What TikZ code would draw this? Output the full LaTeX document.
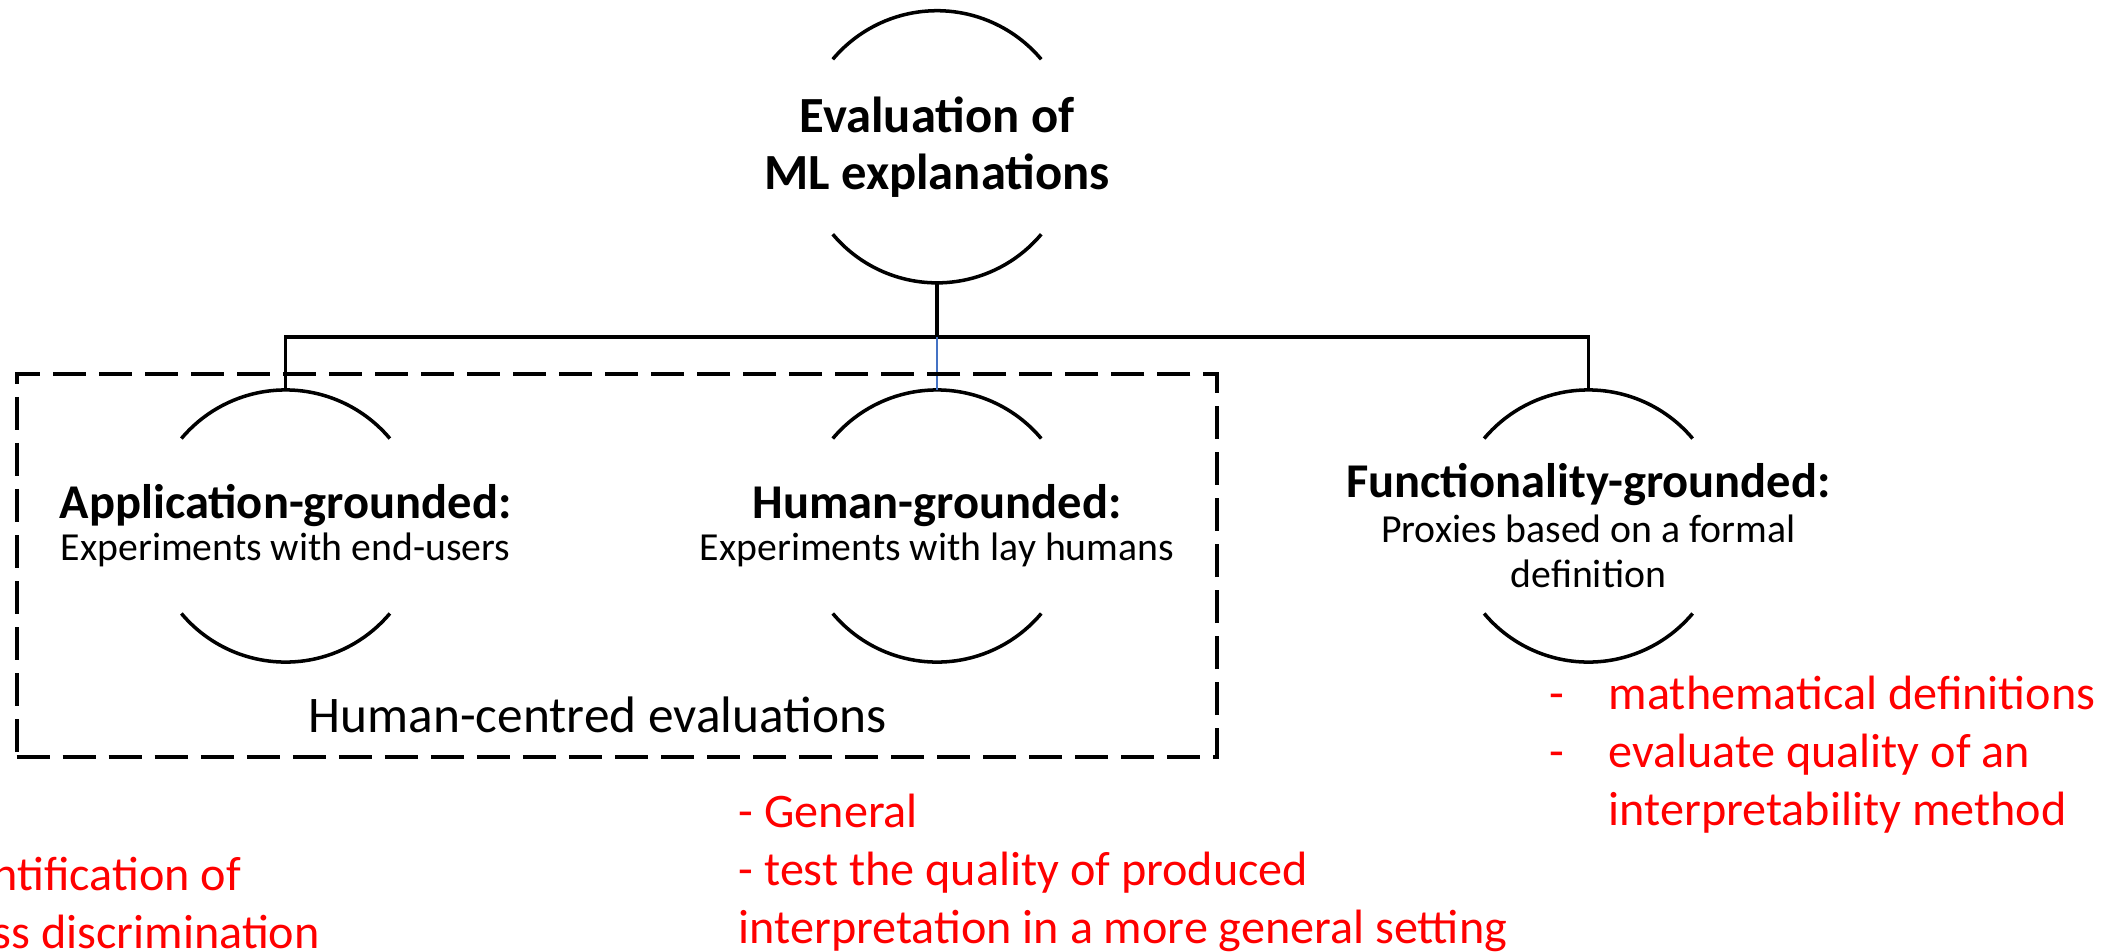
\documentclass[tikz,border=0pt]{standalone}
\usepackage{fontspec}
\setmainfont{Carlito}
\usetikzlibrary{positioning}
\definecolor{linkblue}{RGB}{68,114,196}
\newcommand{\subline}[1]{{\fontsize{11.3}{12}\selectfont #1}}

\begin{document}
\begin{tikzpicture}[x=0.01cm, y=0.01cm, node distance=6.51cm,
    head node/.style={align=center, inner sep=0pt, font=\fontsize{13.8}{12}\selectfont},
    ring node/.style={circle, minimum size=2.72cm, inner sep=0pt, outer sep=0pt},
    arc line/.style={line width=1pt},
    link/.style={line width=1pt},
    blue link/.style={line width=0.5pt, linkblue},
    group box/.style={draw, line width=1.1pt, dash pattern=on 0.33cm off 0.13cm, minimum width=12cm, minimum height=3.83cm},
    note node/.style={align=left, anchor=base west, inner sep=0pt, text=red, font=\fontsize{13.7}{16.4}\selectfont}]
  \useasboundingbox (0,0) rectangle (2124,-951);

  \node[head node] (hum) at (937,-526) {\textbf{Human-grounded:}\\\subline{Experiments with lay humans}};
  \node[head node] (app) [left of=hum] {\textbf{Application-grounded:}\\\subline{Experiments with end-users}};
  \node[head node, font=\fontsize{13.8}{12.8}\selectfont] (func) [right of=hum] {\textbf{Functionality-grounded:}\\\subline{Proxies based on a formal}\\\subline{definition}};
  \node[head node, font=\fontsize{14.4}{16.2}\selectfont\bfseries] (eval) [node distance=3.79cm, above of=hum] {Evaluation of\\ML explanations};

  % open circles round each heading
  \foreach \n in {eval,app,hum,func} {
    \node[ring node] (\n-c) at (\n) {};
    \draw[arc line] (\n-c.40) arc[start angle=40, end angle=140, radius=1.36cm];
    \draw[arc line] (\n-c.220) arc[start angle=220, end angle=320, radius=1.36cm];
  }

  \draw[link] (eval-c.south) -- ++(0,-54) coordinate (bus);
  \draw[link] (bus) -| (app-c.north);
  \draw[link] (bus) -| (func-c.north);
  \draw[blue link] (bus) -- (hum-c.north);

  \node[group box] (group) at (617,-565.5) {};
  \node[anchor=base west, inner sep=0pt, font=\fontsize{14.6}{16}\selectfont] (group label) at (308,-732) {Human-centred evaluations};

  % red remarks (anchored at the baseline of their last line)
  \node[note node] (app notes) at (-8,-948) {ntification of\\ss discrimination};
  \node[note node] (hum notes) at (738,-943) {- General\\- test the quality of produced\\interpretation in a more general setting};
  \node[note node] (func dashes) at (1549,-767) {-\\-};
  \node[note node] (func notes) at (1608,-825) {mathematical definitions\\evaluate quality of an\\interpretability method};
\end{tikzpicture}
\end{document}
